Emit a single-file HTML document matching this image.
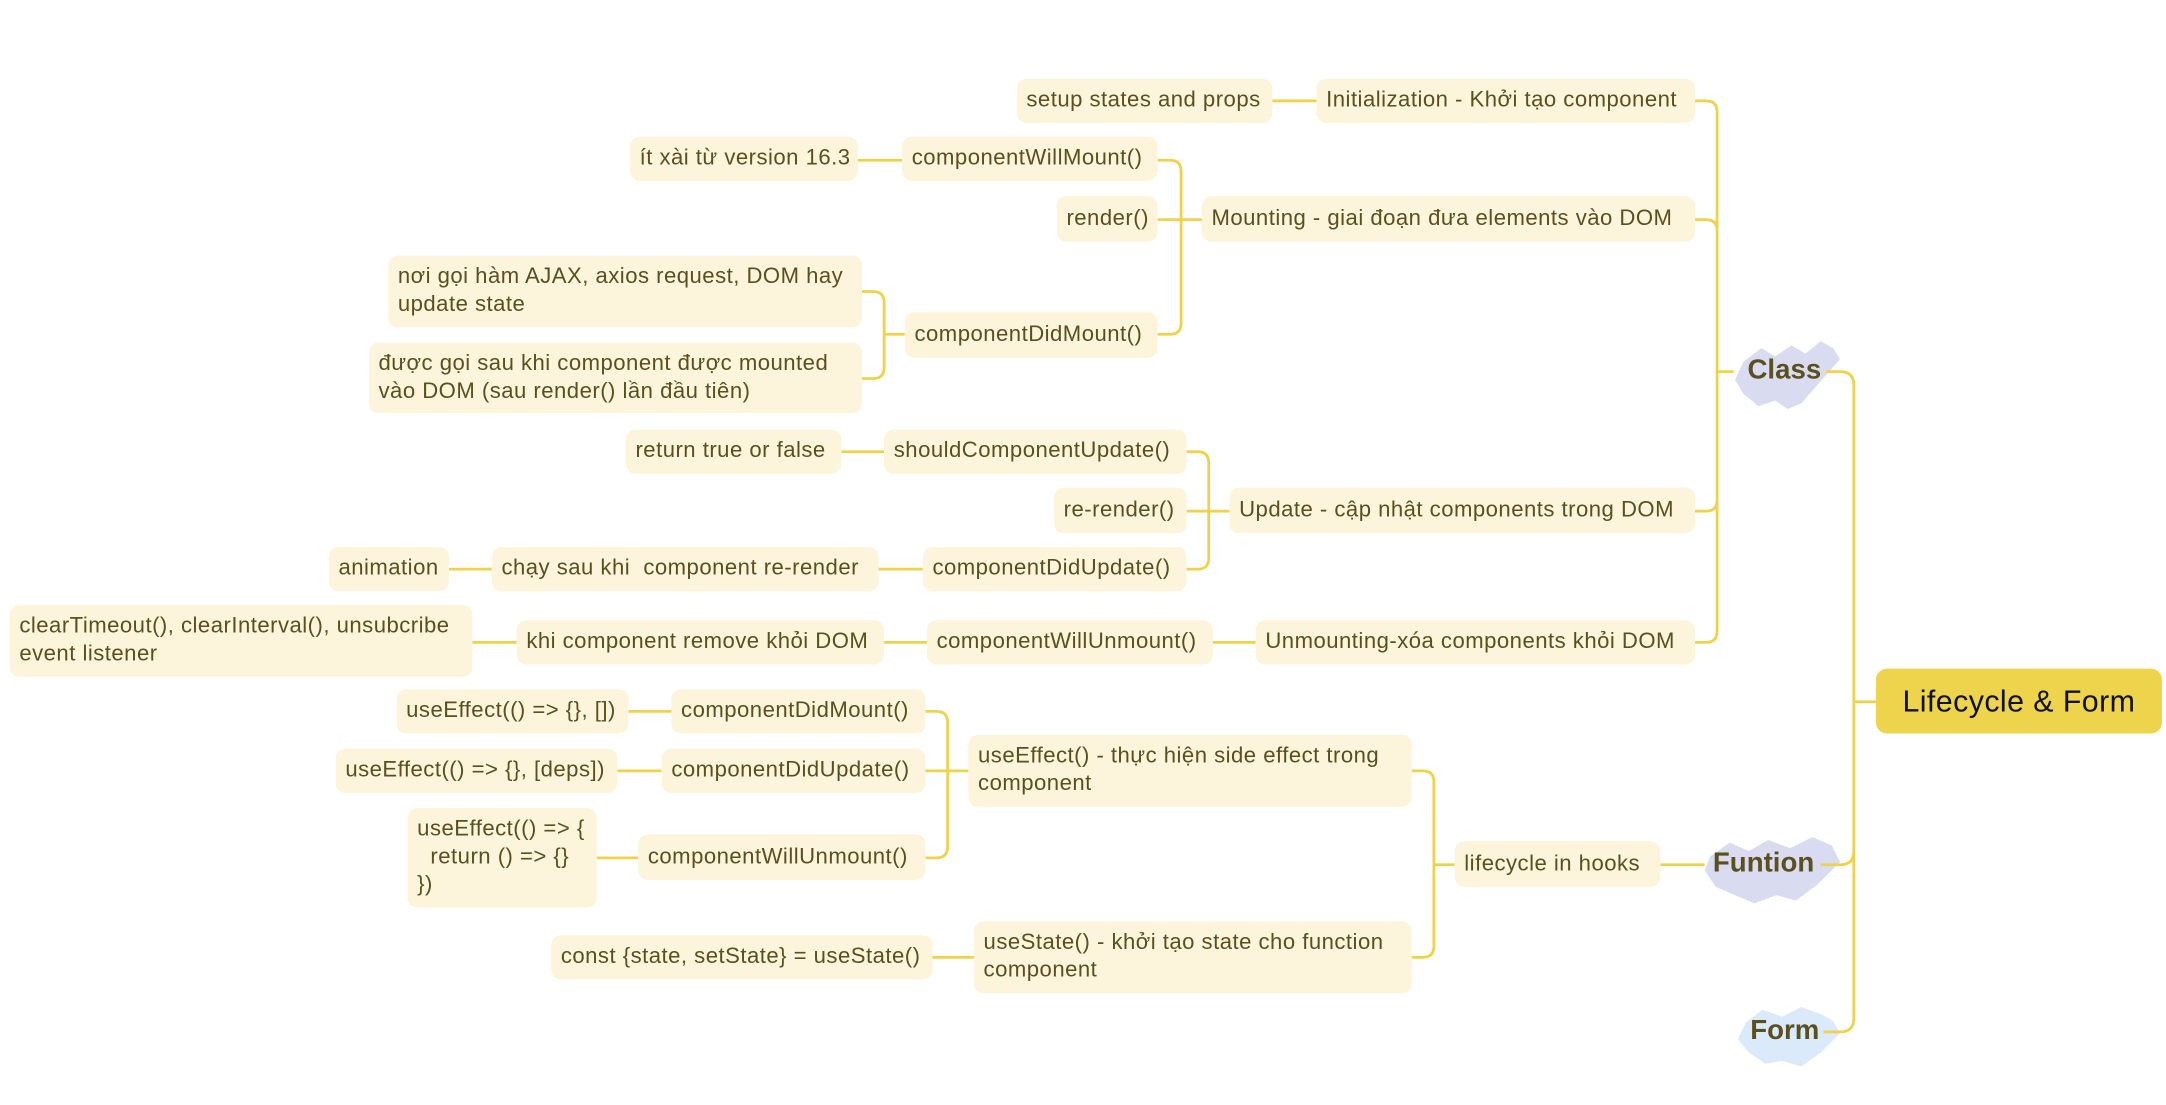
<!DOCTYPE html>
<html><head><meta charset="utf-8"><style>
html,body{margin:0;padding:0;background:#fff;}
body{width:2166px;height:1104px;overflow:hidden;position:relative;}
#w{position:absolute;left:0;top:0;width:1568px;height:800px;transform:scale(1.3814);transform-origin:0 0;}
.b{position:absolute;background:#fcf5dc;border-radius:7px;color:#5a4f1e;font-family:"Liberation Sans","DejaVu Sans",sans-serif;font-size:16px;letter-spacing:0.35px;line-height:20px;padding:0 7px;box-sizing:border-box;display:flex;align-items:center;white-space:nowrap;}
.m{white-space:pre;align-items:center;}
.t{position:absolute;font-family:"Liberation Sans",sans-serif;font-weight:bold;font-size:20px;color:#5a4f1e;}
svg{position:absolute;left:0;top:0;}
</style></head><body><div id="w">
<svg width="1568" height="800" viewBox="0 0 1568 800">
<g fill="#d9dcf0">
<polygon points="1262,262 1275,252 1285,258 1297,250 1307,256 1318,247 1327,252 1332,260 1318,276 1304,292 1294,296 1285,290 1273,294 1262,285 1256,275"/>
<polygon points="1238,620 1252,610 1266,616 1280,608 1296,614 1312,606 1326,612 1332,624 1316,640 1300,652 1286,648 1270,654 1256,648 1242,642 1234,630"/>
</g>
<polygon fill="#dbeafa" points="1264,740 1276,731 1290,736 1304,729 1318,734 1327,739 1332,748 1318,762 1304,772 1290,768 1278,770 1266,762 1258,752"/>
<g fill="none" stroke="#f0d24a" stroke-width="2">
<path d="M1358 508 H1342 M1342 508 V279 Q1342 269 1332 269 H1322 M1342 508 V616 Q1342 626 1332 626 H1318 M1342 508 V737 Q1342 747 1332 747 H1320"/>
<path d="M1255 269 H1243 V81 Q1243 73 1235 73 H1227 M1243 269 V167 Q1243 159 1235 159 H1227 M1243 269 V362 Q1243 370 1235 370 H1227 M1243 269 V457 Q1243 465 1235 465 H1227"/>
<path d="M870 159 H855 V124 Q855 116 847 116 H838 M870 159 H838 M855 159 V234 Q855 242 847 242 H838"/>
<path d="M655 242 H640 V219 Q640 211 632 211 H624 M640 242 V266 Q640 274 632 274 H624"/>
<path d="M890 370 H875 V335 Q875 327 867 327 H859 M890 370 H859 M875 370 V404 Q875 412 867 412 H859"/>
<path d="M1053 626 H1038 V566 Q1038 558 1030 558 H1022 M1038 626 V685 Q1038 693 1030 693 H1022"/>
<path d="M701 558 H686 V523 Q686 515 678 515 H670 M701 558 H670 M686 558 V613 Q686 621 678 621 H670"/>
<path d="M921 73 H953 M621 116 H653 M609 327 H640 M636 412 H668 M325 412 H356 M878 465 H909 M640 465 H671 M342 465 H374 M455 515 H486 M447 558 H479 M432 621 H462 M675 693 H705 M1202 626 H1234"/>
</g>
</svg>
<div class="b" style="left:736px;top:57px;width:185px;height:32px">setup states and props</div>
<div class="b" style="left:953px;top:57px;width:274px;height:32px">Initialization - Khởi tạo component</div>
<div class="b" style="left:456px;top:99px;width:165px;height:32px">ít xài từ version 16.3</div>
<div class="b" style="left:653px;top:99px;width:185px;height:32px">componentWillMount()</div>
<div class="b" style="left:765px;top:142px;width:73px;height:33px">render()</div>
<div class="b" style="left:870px;top:142px;width:357px;height:33px">Mounting - giai đoạn đưa elements vào DOM</div>
<div class="b m" style="left:281px;top:185px;width:343px;height:52px">nơi gọi hàm AJAX, axios request, DOM hay
update state</div>
<div class="b" style="left:655px;top:226px;width:183px;height:33px">componentDidMount()</div>
<div class="b m" style="left:267px;top:248px;width:357px;height:51px">được gọi sau khi component được mounted
vào DOM (sau render() lần đầu tiên)</div>
<div class="b" style="left:453px;top:311px;width:156px;height:32px">return true or false</div>
<div class="b" style="left:640px;top:311px;width:219px;height:32px">shouldComponentUpdate()</div>
<div class="b" style="left:763px;top:353px;width:96px;height:33px">re-render()</div>
<div class="b" style="left:890px;top:353px;width:337px;height:33px">Update - cập nhật components trong DOM</div>
<div class="b" style="left:238px;top:396px;width:87px;height:32px">animation</div>
<div class="b" style="left:356px;top:396px;width:280px;height:32px">chạy sau khi&nbsp; component re-render</div>
<div class="b" style="left:668px;top:396px;width:191px;height:32px">componentDidUpdate()</div>
<div class="b m" style="left:7px;top:438px;width:335px;height:52px">clearTimeout(), clearInterval(), unsubcribe
event listener</div>
<div class="b" style="left:374px;top:449px;width:266px;height:32px">khi component remove khỏi DOM</div>
<div class="b" style="left:671px;top:449px;width:207px;height:32px">componentWillUnmount()</div>
<div class="b" style="left:909px;top:449px;width:318px;height:32px">Unmounting-xóa components khỏi DOM</div>
<div class="b" style="left:287px;top:499px;width:168px;height:32px">useEffect(() =&gt; {}, [])</div>
<div class="b" style="left:486px;top:499px;width:184px;height:32px">componentDidMount()</div>
<div class="b" style="left:243px;top:542px;width:204px;height:32px">useEffect(() =&gt; {}, [deps])</div>
<div class="b" style="left:479px;top:542px;width:191px;height:32px">componentDidUpdate()</div>
<div class="b m" style="left:701px;top:532px;width:321px;height:52px">useEffect() - thực hiện side effect trong
component</div>
<div class="b m" style="left:295px;top:585px;width:137px;height:72px">useEffect(() =&gt; {
  return () =&gt; {}
})</div>
<div class="b" style="left:462px;top:604px;width:208px;height:33px">componentWillUnmount()</div>
<div class="b" style="left:1053px;top:609px;width:149px;height:33px">lifecycle in hooks</div>
<div class="b" style="left:399px;top:677px;width:276px;height:32px">const {state, setState} = useState()</div>
<div class="b m" style="left:705px;top:667px;width:317px;height:52px">useState() - khởi tạo state cho function
component</div>
<div class="t" style="left:1265px;top:257px">Class</div>
<div class="t" style="left:1240px;top:614px">Funtion</div>
<div class="t" style="left:1267px;top:735px">Form</div>
<div class="b" style="left:1358px;top:484px;width:207px;height:47px;background:#edd44c;color:#111;font-size:22px;letter-spacing:0.3px;justify-content:center;border-radius:8px">Lifecycle &amp; Form</div>
</div></body></html>
